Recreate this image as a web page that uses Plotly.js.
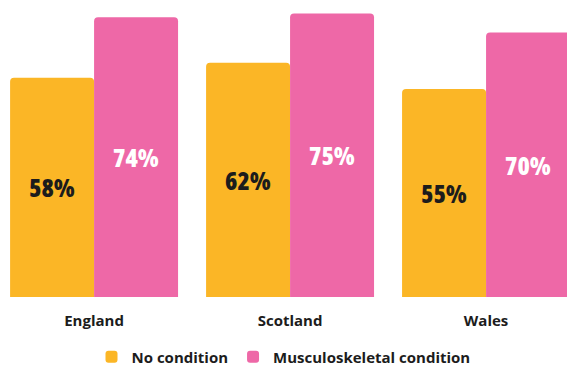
<!DOCTYPE html>
<html><head><meta charset="utf-8">
<script src="https://cdn.plot.ly/plotly-3.0.1.min.js"></script>
<style>html,body{margin:0;padding:0;background:#fff}#chart{width:567px;height:365px}
#chart text.bartext{font-stretch:75% !important;}
</style>
</head><body><div id="chart"></div>
<script>
const categories = ["England", "Scotland", "Wales"];
const noCondition = [58, 62, 55];
const musculoskeletal = [74, 75, 70];
const seriesNames = ["No condition", "Musculoskeletal condition"];

const labelFont = "'Open Sans', sans-serif";
const data = [
  {type: 'bar', name: seriesNames[0], x: categories, y: noCondition,
   marker: {color: '#FBB626'},
   text: noCondition.map(v => v + '%'), textposition: 'inside', insidetextanchor: 'middle',
   textangle: 0,
   textfont: {family: labelFont, size: 25, weight: 800, color: '#1c1c1c'},
   hoverinfo: 'none'},
  {type: 'bar', name: seriesNames[1], x: categories, y: musculoskeletal,
   marker: {color: '#EE68A7'},
   text: musculoskeletal.map(v => v + '%'), textposition: 'inside', insidetextanchor: 'middle',
   textangle: 0,
   textfont: {family: labelFont, size: 25, weight: 800, color: '#ffffff'},
   hoverinfo: 'none'}
];
const layout = {
  width: 567, height: 365,
  margin: {l: 0, r: 0, t: 0, b: 68, autoexpand: false},
  paper_bgcolor: '#fff', plot_bgcolor: '#fff',
  barmode: 'group', bargap: 0.143, bargroupgap: 0, barcornerradius: 4,
  showlegend: true,
  legend: {orientation: 'h', x: 0.5, xanchor: 'center', y: -0.202, yanchor: 'middle',
           font: {family: "'Open Sans', sans-serif", size: 15, weight: 700, color: '#1c1c1c'},
           itemwidth: 30, traceorder: 'normal', bgcolor: 'rgba(0,0,0,0)'},
  xaxis: {range: [-0.48, 2.413], showgrid: false, zeroline: false, showline: false,
          ticks: 'outside', ticklen: 10, tickcolor: 'rgba(0,0,0,0)',
          tickfont: {family: "'Open Sans', sans-serif", size: 15, weight: 700, color: '#1c1c1c'}},
  yaxis: {range: [0, 78.57], visible: false, showgrid: false, zeroline: false},
  font: {family: "'Open Sans', sans-serif"}
};
Plotly.newPlot('chart', data, layout, {staticPlot: true, displayModeBar: false});
</script></body></html>
